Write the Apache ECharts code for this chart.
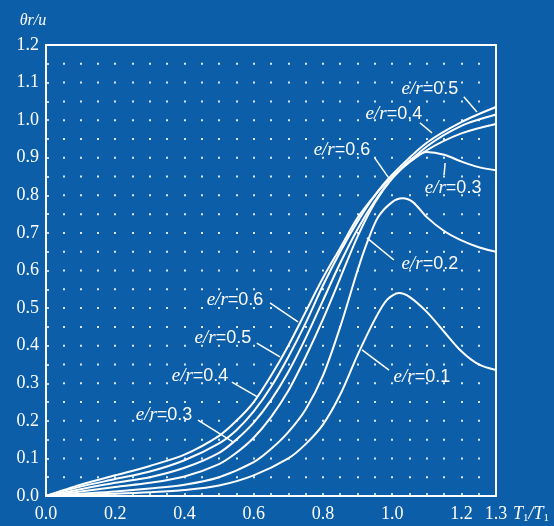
<!DOCTYPE html>
<html><head><meta charset="utf-8">
<script src="https://cdn.jsdelivr.net/npm/echarts@6/dist/echarts.min.js"></script>
<style>html,body{margin:0;padding:0;background:#0c5ea8}#c{width:554px;height:526px}</style>
</head><body><div id="c"></div>
<script>
// ---- data ----
const xLabelValues = [0, 0.2, 0.4, 0.6, 0.8, 1.0, 1.2, 1.3];
const yLabelValues = [0, 0.1, 0.2, 0.3, 0.4, 0.5, 0.6, 0.7, 0.8, 0.9, 1.0, 1.1, 1.2];
const seriesNames = ['e/r=0.1', 'e/r=0.2', 'e/r=0.3', 'e/r=0.4', 'e/r=0.5', 'e/r=0.6'];

const er01 = [[0,0],[0.1,0.003],[0.2,0.006],[0.3,0.01],[0.4,0.016],[0.5,0.028],[0.6,0.055],[0.7,0.1],[0.75,0.138],[0.8,0.19],[0.85,0.27],[0.9,0.375],[0.95,0.47],[0.985,0.522],[1.02,0.54],[1.05,0.53],[1.1,0.49],[1.15,0.437],[1.2,0.385],[1.25,0.35],[1.3,0.335]];
const er02 = [[0,0],[0.1,0.006],[0.2,0.012],[0.3,0.02],[0.4,0.03],[0.5,0.05],[0.6,0.09],[0.65,0.125],[0.7,0.17],[0.75,0.23],[0.8,0.32],[0.85,0.45],[0.9,0.6],[0.93,0.68],[0.96,0.743],[1.0,0.782],[1.03,0.792],[1.06,0.782],[1.1,0.742],[1.15,0.705],[1.2,0.68],[1.25,0.662],[1.3,0.65]];
const er03 = [[0,0],[0.1,0.012],[0.2,0.024],[0.3,0.035],[0.4,0.052],[0.5,0.085],[0.55,0.115],[0.6,0.155],[0.65,0.21],[0.7,0.28],[0.75,0.37],[0.8,0.47],[0.85,0.58],[0.9,0.69],[0.95,0.78],[1.0,0.845],[1.05,0.892],[1.1,0.915],[1.15,0.908],[1.2,0.89],[1.25,0.875],[1.3,0.867]];
const er04 = [[0,0],[0.1,0.018],[0.2,0.035],[0.3,0.05],[0.4,0.075],[0.5,0.115],[0.55,0.15],[0.6,0.195],[0.65,0.255],[0.7,0.33],[0.75,0.42],[0.8,0.52],[0.85,0.62],[0.9,0.71],[0.95,0.785],[1.0,0.845],[1.1,0.93],[1.2,0.985],[1.3,1.015]];
const er05 = [[0,0],[0.1,0.025],[0.2,0.045],[0.3,0.065],[0.4,0.095],[0.5,0.14],[0.55,0.175],[0.6,0.225],[0.65,0.29],[0.7,0.37],[0.75,0.46],[0.8,0.56],[0.85,0.65],[0.9,0.73],[0.95,0.8],[1.0,0.855],[1.1,0.94],[1.2,0.995],[1.3,1.035]];
const er06 = [[0,0],[0.1,0.03],[0.2,0.055],[0.3,0.08],[0.4,0.11],[0.5,0.16],[0.55,0.2],[0.6,0.25],[0.65,0.32],[0.7,0.4],[0.75,0.49],[0.8,0.58],[0.85,0.66],[0.9,0.74],[0.95,0.8],[1.0,0.85],[1.1,0.92],[1.2,0.965],[1.3,0.99]];
const seriesData = [er01, er02, er03, er04, er05, er06];

// annotation labels: value text, label centre and leader line, in data units
const annotations = [
  {v:'0.5', at:[1.109,1.083], from:[1.207,1.062], to:[1.245,1.022]},
  {v:'0.4', at:[1.005,1.016], from:[1.080,0.993], to:[1.115,0.966]},
  {v:'0.6', at:[0.855,0.921], from:[0.950,0.899], to:[0.994,0.841]},
  {v:'0.3', at:[1.176,0.820], from:[1.153,0.886], to:[1.150,0.854]},
  {v:'0.2', at:[1.109,0.617], from:[0.927,0.687], to:[1.005,0.628]},
  {v:'0.1', at:[1.086,0.317], from:[0.913,0.389], to:[0.991,0.335]},
  {v:'0.6', at:[0.546,0.522], from:[0.647,0.514], to:[0.728,0.463]},
  {v:'0.5', at:[0.511,0.420], from:[0.609,0.407], to:[0.676,0.370]},
  {v:'0.4', at:[0.445,0.319], from:[0.537,0.303], to:[0.612,0.263]},
  {v:'0.3', at:[0.341,0.216], from:[0.439,0.202], to:[0.540,0.144]}
];

// ---- layout / style ----
const BG = '#0c5ea8';
const GRID = {left:46, top:45, width:450, height:451};
const dotStep = GRID.height / 24;
const near = (arr, v) => arr.some(a => Math.abs(a - v) < 1e-6);

const chart = echarts.init(document.getElementById('c'), null, {renderer:'canvas'});
chart.setOption({
  backgroundColor: BG,
  animation: false,
  grid: {left:GRID.left, top:GRID.top, width:GRID.width, height:GRID.height, show:true, borderColor:'#fff', borderWidth:2},
  xAxis: {
    type:'value', min:0, max:1.3, interval:0.05,
    axisLine:{show:false},
    axisTick:{show:true, inside:true, length:3, lineStyle:{color:'#fff', width:1.5}},
    axisLabel:{color:'#fff', fontFamily:'Liberation Serif', fontSize:18, margin:9, showMaxLabel:true, showMinLabel:true,
      formatter: v => near(xLabelValues, v) ? v.toFixed(1) : ''},
    splitLine:{show:true, lineStyle:{color:'#ffffff', width:2, type:[2, dotStep-2], dashOffset:1, opacity:0.85}}
  },
  yAxis: {
    type:'value', min:0, max:1.2, interval:0.05,
    axisLine:{show:false},
    axisTick:{show:true, inside:true, length:3, lineStyle:{color:'#fff', width:1.5}},
    axisLabel:{color:'#fff', fontFamily:'Liberation Serif', fontSize:18, margin:7, showMaxLabel:true, showMinLabel:true,
      formatter: v => near(yLabelValues, v) ? v.toFixed(1) : ''},
    splitLine:{show:false}
  },
  series: seriesData.map((d, i) => ({
    name: seriesNames[i], type:'line', data:d, showSymbol:false, smooth:0.3,
    lineStyle:{color:'#fff', width:2}, z:5
  }))
});

const P = p => chart.convertToPixel({gridIndex:0}, p);
const g = [];
annotations.forEach(a => {
  const c = P(a.at), f = P(a.from), t = P(a.to);
  g.push({type:'line', shape:{x1:f[0], y1:f[1], x2:t[0], y2:t[1]}, style:{stroke:'#fff', lineWidth:1.5}, z:10});
  g.push({type:'text', x:c[0], y:c[1], z:10, style:{
    text:'{i|e/r}{n|=' + a.v + '}', align:'center', verticalAlign:'middle',
    rich:{
      i:{fontFamily:'Liberation Serif', fontStyle:'italic', fontSize:19, fill:'#fff'},
      n:{fontFamily:'Liberation Sans', fontSize:18, fill:'#fff'}
    }}});
});
g.push({type:'text', x:33, y:21, z:10, style:{text:'θr/u', font:'italic 16px "Liberation Serif"', fill:'#fff', align:'center', verticalAlign:'middle'}});
g.push({type:'text', x:513, y:514, z:10, style:{
  text:'{t|T}{s|1}{t|/T}{s|1}', align:'left', verticalAlign:'middle',
  rich:{ t:{fontFamily:'Liberation Serif', fontStyle:'italic', fontSize:18, fill:'#fff'},
         s:{fontFamily:'Liberation Serif', fontSize:11, fill:'#fff', padding:[8,0,0,0]} }}});
chart.setOption({graphic: g});
</script>
</body></html>
